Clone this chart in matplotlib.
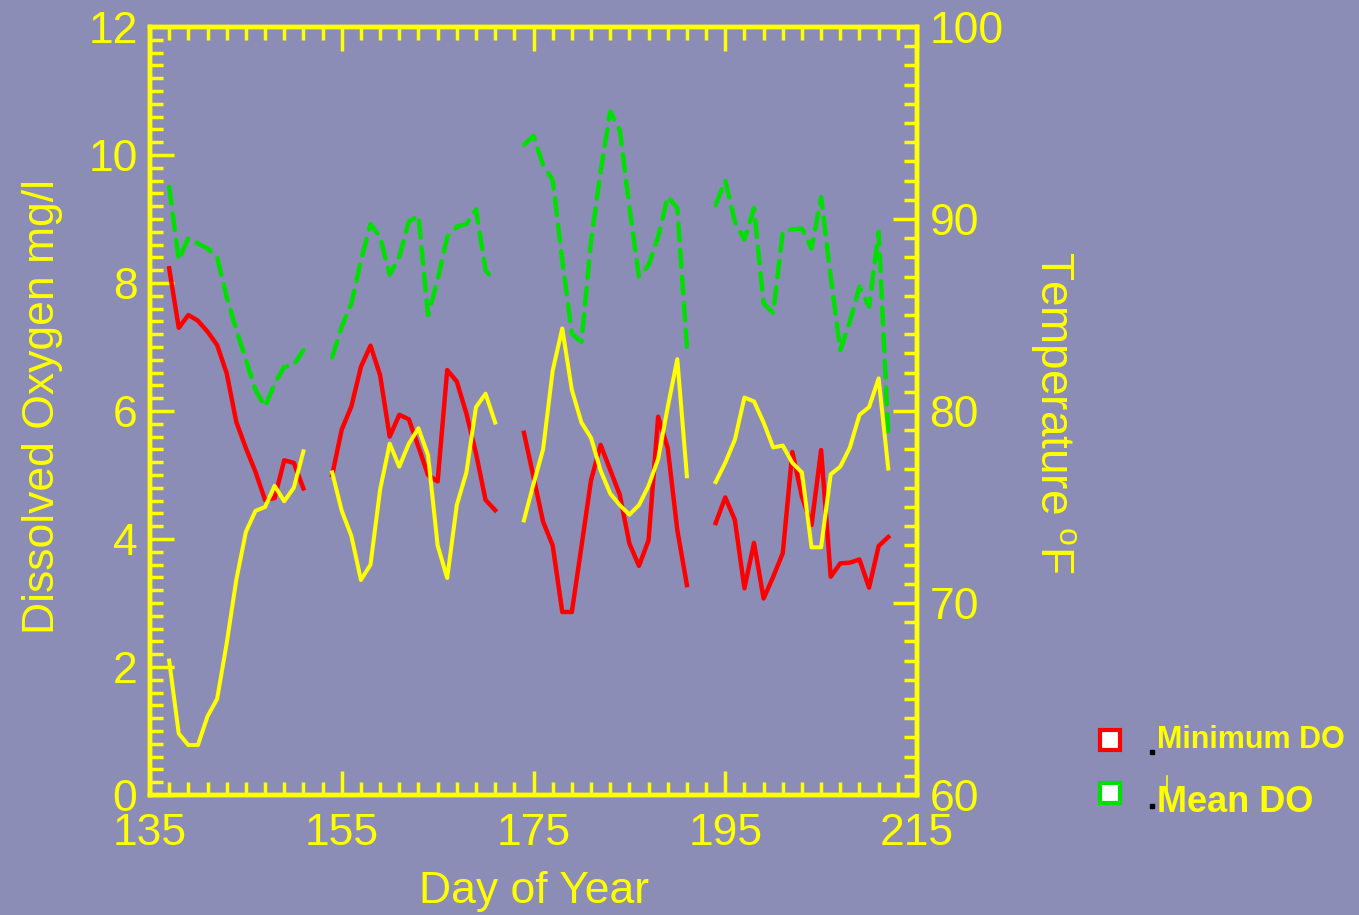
import matplotlib
matplotlib.use('Agg')
import matplotlib.pyplot as plt
import numpy as np
from matplotlib.ticker import FixedLocator
from matplotlib.lines import Line2D

nan = float('nan')

# ---------------- data ----------------
day = list(range(137, 213))

min_do = [8.23, 7.30, 7.50, 7.41, 7.24, 7.03, 6.59, 5.83, 5.42, 5.05, 4.61, 4.64, 5.23, 5.19, 4.79,
          nan, nan,
          5.00, 5.71, 6.07, 6.69, 7.02, 6.56, 5.60, 5.94, 5.87, 5.44, 5.00, 4.90, 6.64, 6.46, 5.96, 5.34, 4.61, 4.45,
          nan, nan,
          5.66, 4.97, 4.27, 3.90, 2.86, 2.86, 3.88, 4.92, 5.47, 5.08, 4.69, 3.93, 3.58, 3.98, 5.91, 5.42, 4.14, 3.28,
          nan, nan,
          4.25, 4.65, 4.30, 3.23, 3.94, 3.07, 3.41, 3.78, 5.36, 4.66, 4.22, 5.39, 3.41, 3.62, 3.63, 3.68, 3.24, 3.89, 4.03]

mean_do = [9.50, 8.36, 8.70, 8.62, 8.54, 8.41, 7.78, 7.27, 6.80, 6.33, 6.07, 6.43, 6.69, 6.72, 6.95,
           nan, nan,
           6.84, 7.32, 7.68, 8.35, 8.92, 8.72, 8.13, 8.41, 8.96, 9.05, 7.50, 8.05, 8.72, 8.88, 8.92, 9.15, 8.20, 8.02,
           nan, nan,
           10.16, 10.30, 9.84, 9.61, 8.36, 7.21, 7.08, 8.65, 9.74, 10.68, 10.39, 9.19, 8.10, 8.28, 8.72, 9.35, 9.17, 7.00,
           nan, nan,
           9.22, 9.60, 8.96, 8.68, 9.17, 7.68, 7.53, 8.80, 8.84, 8.85, 8.54, 9.34, 8.10, 6.95, 7.40, 7.94, 7.63, 8.80, 5.65]

temp_f = [67.0, 63.2, 62.6, 62.6, 64.1, 65.0, 67.9, 71.2, 73.7, 74.8, 75.0, 76.1, 75.3, 76.0, 77.9,
          nan, nan,
          76.8, 74.8, 73.5, 71.2, 72.0, 75.9, 78.3, 77.1, 78.3, 79.1, 77.7, 73.0, 71.3, 75.1, 76.8, 80.2, 80.9, 79.4,
          nan, nan,
          74.3, 76.2, 78.0, 82.1, 84.3, 81.1, 79.4, 78.6, 76.9, 75.7, 75.1, 74.6, 75.1, 76.1, 77.5, 80.2, 82.7, 76.6,
          nan, nan,
          76.3, 77.3, 78.5, 80.7, 80.5, 79.4, 78.1, 78.2, 77.3, 76.8, 72.9, 72.9, 76.7, 77.1, 78.1, 79.8, 80.2, 81.7, 77.0]

x_major = [135, 155, 175, 195, 215]
do_major = [0, 2, 4, 6, 8, 10, 12]
temp_major = [60, 70, 80, 90, 100]
legend_labels = ['Minimum DO', 'Mean DO']

# ---------------- style ----------------
W, H = 1359, 915
BG = '#8B8DB7'
YELLOW = '#FFFF00'
RED = '#FF0000'
GREEN = '#00E000'

plt.rcParams['font.family'] = ['Liberation Sans', 'DejaVu Sans']
plt.rcParams['mathtext.fontset'] = 'custom'
plt.rcParams['mathtext.rm'] = 'Liberation Sans'

fig = plt.figure(figsize=(W / 100, H / 100), dpi=100)
fig.patch.set_facecolor(BG)

ax = fig.add_axes([150 / W, 1 - 795 / H, 767 / W, 768 / H])
ax.set_facecolor('none')
ax2 = ax.twinx()

ax.plot(day, mean_do, color=GREEN, lw=3.2, dashes=(3.8, 2.2), dash_capstyle='round', zorder=3)
ax.plot(day, min_do, color=RED, lw=3.2, zorder=4, solid_joinstyle='round')
ax2.plot(day, temp_f, color=YELLOW, lw=2.9, zorder=5, solid_joinstyle='round')

ax.set_xlim(135, 215)
ax.set_ylim(0, 12)
ax2.set_ylim(60, 100)

ax.xaxis.set_major_locator(FixedLocator(x_major))
ax.xaxis.set_minor_locator(FixedLocator(np.arange(135, 216, 2)))
ax.yaxis.set_major_locator(FixedLocator(do_major))
ax.yaxis.set_minor_locator(FixedLocator(np.arange(0, 12.01, 0.2)))
ax2.yaxis.set_major_locator(FixedLocator(temp_major))
ax2.yaxis.set_minor_locator(FixedLocator(np.arange(60, 100.01, 1)))

for a in (ax, ax2):
    for s in a.spines.values():
        s.set_color(YELLOW)
        s.set_linewidth(3.2)

common = dict(direction='in', color=YELLOW, labelcolor=YELLOW, width=2.5)
ax.tick_params(axis='x', which='both', top=True, bottom=True, labelsize=32, pad=13, **common)
ax.tick_params(axis='y', which='both', left=True, right=False, labelsize=32, pad=9, **common)
ax2.tick_params(axis='y', which='both', right=True, left=False, labelsize=32, pad=9, **common)
for a in (ax, ax2):
    a.tick_params(which='major', length=17)
    a.tick_params(which='minor', length=9.5)

# axis titles
fig.text(534 / W, 1 - 903 / H, 'Day of Year', color=YELLOW, fontsize=32,
         ha='center', va='baseline')
fig.text(54 / W, 1 - 406 / H, 'Dissolved Oxygen mg/l', color=YELLOW, fontsize=32,
         rotation=90, rotation_mode='anchor', ha='center', va='baseline')
fig.text(1041 / W, 1 - 413 / H, r'Temperature $^{\mathrm{o}}$F', color=YELLOW, fontsize=33,
         rotation=-90, rotation_mode='anchor', ha='center', va='baseline')

# legend
for (cy, ec, lab, ty, fs) in [(739.5, RED, legend_labels[0], 748, 22),
                              (792.5, GREEN, legend_labels[1], 812, 26)]:
    fig.add_artist(Line2D([1109.5 / W], [1 - cy / H], transform=fig.transFigure, marker='s',
                          ms=15, mfc='white', mec=ec, mew=3, ls='none'))
    fig.text(1157 / W, 1 - ty / H, lab, color=YELLOW, fontsize=fs, fontweight='bold',
             ha='left', va='baseline')
for dy in (752, 806):
    fig.add_artist(Line2D([1152 / W], [1 - dy / H], transform=fig.transFigure, marker='s',
                          ms=2.5, mfc='black', mec='black', ls='none'))
fig.add_artist(Line2D([1167 / W, 1167 / W], [1 - 776 / H, 1 - 798 / H], transform=fig.transFigure,
                      color=YELLOW, lw=1.2))

fig.savefig('out.png', dpi=100, facecolor=fig.get_facecolor())
